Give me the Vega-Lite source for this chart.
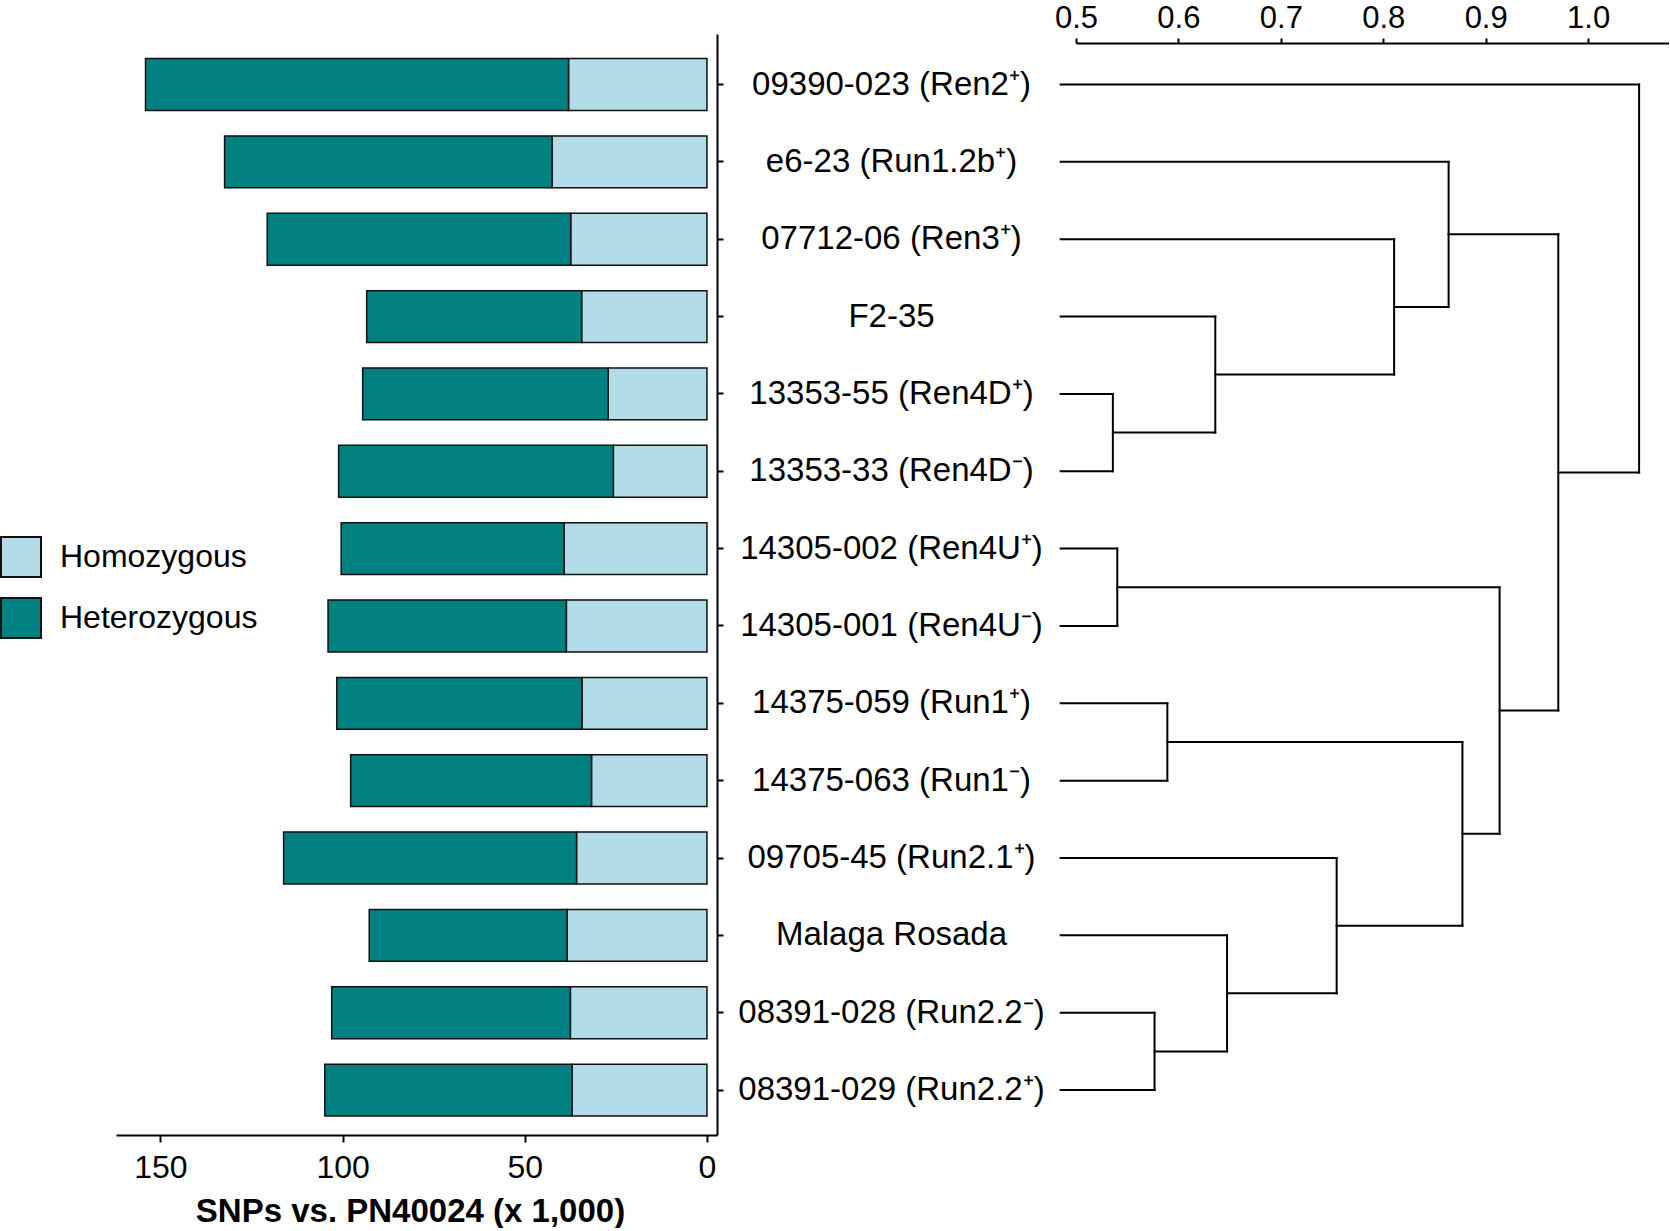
{
  "$schema": "https://vega.github.io/schema/vega-lite/v6.json",
  "padding": {"top": 2, "left": 0, "right": 0, "bottom": 0},
  "background": "white",
  "config": {
    "view": {"stroke": null},
    "font": "Liberation Sans",
    "axis": {
      "domainColor": "black",
      "tickColor": "black",
      "labelColor": "black",
      "titleColor": "black",
      "domainWidth": 2,
      "tickWidth": 2,
      "grid": false,
      "labelFont": "Liberation Sans",
      "titleFont": "Liberation Sans"
    },
    "legend": {"labelFont": "Liberation Sans", "labelColor": "black"}
  },
  "datasets": {
    "snps": [
      {"line": "09390-023 (Ren2⁺)", "type": "Homozygous", "snps": 38.0},
      {"line": "09390-023 (Ren2⁺)", "type": "Heterozygous", "snps": 116.1},
      {"line": "e6-23 (Run1.2b⁺)", "type": "Homozygous", "snps": 42.5},
      {"line": "e6-23 (Run1.2b⁺)", "type": "Heterozygous", "snps": 89.9},
      {"line": "07712-06 (Ren3⁺)", "type": "Homozygous", "snps": 37.4},
      {"line": "07712-06 (Ren3⁺)", "type": "Heterozygous", "snps": 83.3},
      {"line": "F2-35", "type": "Homozygous", "snps": 34.4},
      {"line": "F2-35", "type": "Heterozygous", "snps": 59.0},
      {"line": "13353-55 (Ren4D⁺)", "type": "Homozygous", "snps": 27.1},
      {"line": "13353-55 (Ren4D⁺)", "type": "Heterozygous", "snps": 67.4},
      {"line": "13353-33 (Ren4D⁻)", "type": "Homozygous", "snps": 25.7},
      {"line": "13353-33 (Ren4D⁻)", "type": "Heterozygous", "snps": 75.4},
      {"line": "14305-002 (Ren4U⁺)", "type": "Homozygous", "snps": 39.2},
      {"line": "14305-002 (Ren4U⁺)", "type": "Heterozygous", "snps": 61.2},
      {"line": "14305-001 (Ren4U⁻)", "type": "Homozygous", "snps": 38.6},
      {"line": "14305-001 (Ren4U⁻)", "type": "Heterozygous", "snps": 65.4},
      {"line": "14375-059 (Run1⁺)", "type": "Homozygous", "snps": 34.3},
      {"line": "14375-059 (Run1⁺)", "type": "Heterozygous", "snps": 67.3},
      {"line": "14375-063 (Run1⁻)", "type": "Homozygous", "snps": 31.7},
      {"line": "14375-063 (Run1⁻)", "type": "Heterozygous", "snps": 66.1},
      {"line": "09705-45 (Run2.1⁺)", "type": "Homozygous", "snps": 35.8},
      {"line": "09705-45 (Run2.1⁺)", "type": "Heterozygous", "snps": 80.4},
      {"line": "Malaga Rosada", "type": "Homozygous", "snps": 38.4},
      {"line": "Malaga Rosada", "type": "Heterozygous", "snps": 54.3},
      {"line": "08391-028 (Run2.2⁻)", "type": "Homozygous", "snps": 37.5},
      {"line": "08391-028 (Run2.2⁻)", "type": "Heterozygous", "snps": 65.5},
      {"line": "08391-029 (Run2.2⁺)", "type": "Homozygous", "snps": 37.0},
      {"line": "08391-029 (Run2.2⁺)", "type": "Heterozygous", "snps": 67.9}
    ],
    "tree": [
      {"x": 0.485, "x2": 0.536, "y": 4, "y2": 4},
      {"x": 0.485, "x2": 0.536, "y": 5, "y2": 5},
      {"x": 0.536, "x2": 0.536, "y": 4, "y2": 5},
      {"x": 0.485, "x2": 0.636, "y": 3, "y2": 3},
      {"x": 0.536, "x2": 0.636, "y": 4.5, "y2": 4.5},
      {"x": 0.636, "x2": 0.636, "y": 3, "y2": 4.5},
      {"x": 0.485, "x2": 0.8106, "y": 2, "y2": 2},
      {"x": 0.636, "x2": 0.8106, "y": 3.75, "y2": 3.75},
      {"x": 0.8106, "x2": 0.8106, "y": 2, "y2": 3.75},
      {"x": 0.485, "x2": 0.8638, "y": 1, "y2": 1},
      {"x": 0.8106, "x2": 0.8638, "y": 2.875, "y2": 2.875},
      {"x": 0.8638, "x2": 0.8638, "y": 1, "y2": 2.875},
      {"x": 0.485, "x2": 0.5403, "y": 6, "y2": 6},
      {"x": 0.485, "x2": 0.5403, "y": 7, "y2": 7},
      {"x": 0.5403, "x2": 0.5403, "y": 6, "y2": 7},
      {"x": 0.485, "x2": 0.5892, "y": 8, "y2": 8},
      {"x": 0.485, "x2": 0.5892, "y": 9, "y2": 9},
      {"x": 0.5892, "x2": 0.5892, "y": 8, "y2": 9},
      {"x": 0.485, "x2": 0.5767, "y": 12, "y2": 12},
      {"x": 0.485, "x2": 0.5767, "y": 13, "y2": 13},
      {"x": 0.5767, "x2": 0.5767, "y": 12, "y2": 13},
      {"x": 0.485, "x2": 0.6475, "y": 11, "y2": 11},
      {"x": 0.5767, "x2": 0.6475, "y": 12.5, "y2": 12.5},
      {"x": 0.6475, "x2": 0.6475, "y": 11, "y2": 12.5},
      {"x": 0.485, "x2": 0.7545, "y": 10, "y2": 10},
      {"x": 0.6475, "x2": 0.7545, "y": 11.75, "y2": 11.75},
      {"x": 0.7545, "x2": 0.7545, "y": 10, "y2": 11.75},
      {"x": 0.5892, "x2": 0.8773, "y": 8.5, "y2": 8.5},
      {"x": 0.7545, "x2": 0.8773, "y": 10.875, "y2": 10.875},
      {"x": 0.8773, "x2": 0.8773, "y": 8.5, "y2": 10.875},
      {"x": 0.5403, "x2": 0.9136, "y": 6.5, "y2": 6.5},
      {"x": 0.8773, "x2": 0.9136, "y": 9.6875, "y2": 9.6875},
      {"x": 0.9136, "x2": 0.9136, "y": 6.5, "y2": 9.6875},
      {"x": 0.8638, "x2": 0.9709, "y": 1.9375, "y2": 1.9375},
      {"x": 0.9136, "x2": 0.9709, "y": 8.09375, "y2": 8.09375},
      {"x": 0.9709, "x2": 0.9709, "y": 1.9375, "y2": 8.09375},
      {"x": 0.485, "x2": 1.0498, "y": 0, "y2": 0},
      {"x": 0.9709, "x2": 1.0498, "y": 5.015625, "y2": 5.015625},
      {"x": 1.0498, "x2": 1.0498, "y": 0, "y2": 5.015625}
    ]
  },
  "spacing": 359,
  "bounds": "flush",
  "resolve": {"scale": {"x": "independent", "y": "independent"}},
  "hconcat": [
    {
      "width": 601,
      "height": 1101,
      "data": {"name": "snps"},
      "mark": {"type": "bar", "stroke": "#111111", "strokeWidth": 1.5},
      "encoding": {
        "y": {
          "field": "line",
          "type": "nominal",
          "sort": null,
          "scale": {"paddingInner": 0.33, "paddingOuter": 0.282, "align": 0.564},
          "axis": {
            "orient": "right",
            "title": null,
            "labelAlign": "center",
            "labelBaseline": "middle",
            "labelPadding": 168,
            "labelFontSize": 33,
            "labelLimit": 500,
            "tickSize": 6
          }
        },
        "x": {
          "field": "snps",
          "type": "quantitative",
          "stack": "zero",
          "scale": {"domain": [-2.75, 162.2], "reverse": true, "nice": false, "zero": false},
          "axis": {
            "values": [0, 50, 100, 150],
            "tickSize": 7,
            "labelPadding": 10,
            "labelFontSize": 32,
            "labelFlush": false,
            "title": "SNPs vs. PN40024 (x 1,000)",
            "titleFontSize": 33,
            "titleFontWeight": "bold",
            "titlePadding": 12,
            "titleX": 294
          }
        },
        "color": {
          "field": "type",
          "type": "nominal",
          "scale": {"domain": ["Homozygous", "Heterozygous"], "range": ["#B2DDE8", "#008080"]},
          "legend": {
            "title": null,
            "orient": "none",
            "legendX": -116,
            "legendY": 502,
            "padding": 0,
            "symbolType": "square",
            "symbolSize": 1600,
            "symbolStrokeColor": "#111111",
            "symbolStrokeWidth": 2,
            "symbolOpacity": 1,
            "labelFontSize": 32,
            "labelOffset": 18,
            "labelLimit": 400,
            "rowPadding": 13
          }
        },
        "order": {"field": "type", "sort": "descending"}
      }
    },
    {
      "width": 593,
      "height": 1101,
      "data": {"name": "tree"},
      "mark": {"type": "rule", "color": "black", "strokeWidth": 2, "strokeCap": "square"},
      "encoding": {
        "x": {
          "field": "x",
          "type": "quantitative",
          "scale": {"domain": [0.5, 1.079], "nice": false, "zero": false},
          "axis": {
            "orient": "top",
            "values": [0.5, 0.6, 0.7, 0.8, 0.9, 1.0],
            "format": ".1f",
            "title": null,
            "tickSize": 5,
            "labelPadding": 4,
            "labelFontSize": 31,
            "labelFlush": false,
            "offset": -9
          }
        },
        "x2": {"field": "x2"},
        "y": {
          "field": "y",
          "type": "quantitative",
          "scale": {"domain": [-0.6529, 13.581], "reverse": true, "nice": false, "zero": false},
          "axis": null
        },
        "y2": {"field": "y2"}
      }
    }
  ]
}
